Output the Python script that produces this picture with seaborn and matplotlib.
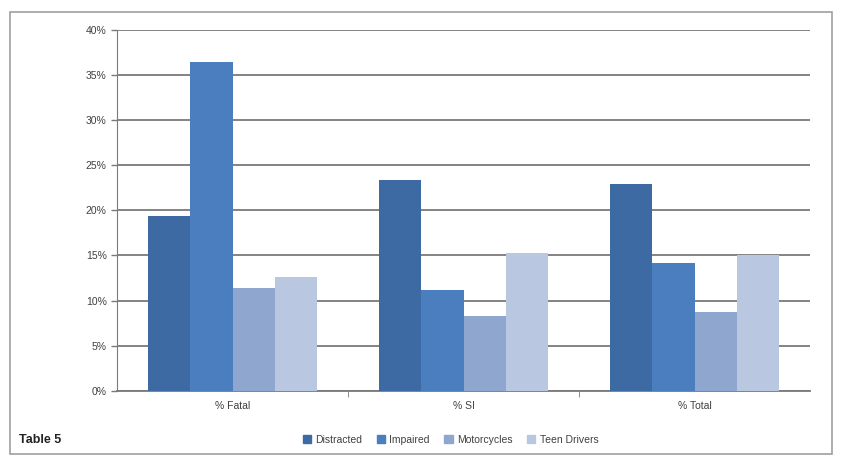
import matplotlib
matplotlib.use("Agg")
import matplotlib.pyplot as plt
import matplotlib.patches as mpatches
import pandas as pd
import seaborn as sns
from matplotlib.ticker import PercentFormatter

# =========================
# data
# =========================
categories = ["% Fatal", "% SI", "% Total"]
groups = ["Distracted", "Impaired", "Motorcycles", "Teen Drivers"]
distracted = [19.4, 23.4, 22.9]
impaired = [36.4, 11.2, 14.2]
motorcycles = [11.4, 8.3, 8.7]
teen_drivers = [12.6, 15.3, 15.0]

colors = ["#3E6AA3", "#4A7EBF", "#8FA7CF", "#B9C7E1"]

rows = []
for g, vals in zip(groups, [distracted, impaired, motorcycles, teen_drivers]):
    for c, v in zip(categories, vals):
        rows.append({"cat": c, "group": g, "value": v})
df = pd.DataFrame(rows)

# =========================
# plot
# =========================
sns.set_style("white")
plt.rcParams['font.family'] = ['Liberation Sans', 'DejaVu Sans']

fig = plt.figure(figsize=(8.42, 4.68), dpi=100)
ax = fig.add_axes([0.139, 0.165, 0.823, 0.771])

sns.barplot(data=df, x="cat", y="value", hue="group", order=categories,
            hue_order=groups, palette=colors, width=0.735, gap=0,
            saturation=1, linewidth=0, edgecolor="none",
            ax=ax, zorder=3, legend=True)

ax.set_ylim(0, 40)
ax.set_xlim(-0.5, 2.5)
ax.set_yticks(range(0, 41, 5))
ax.yaxis.set_major_formatter(PercentFormatter(decimals=0))
ax.grid(axis="y", color="#7A7A7A", linewidth=1.3, zorder=0)
ax.set_axisbelow(True)
ax.set_xlabel("")
ax.set_ylabel("")
for s in ["top", "right"]:
    ax.spines[s].set_visible(False)
ax.spines["left"].set_color("#7A7A7A")
ax.spines["bottom"].set_color("#7A7A7A")
ax.spines["bottom"].set_linewidth(1.3)
ax.tick_params(axis="both", labelsize=7.5, colors="#404040", length=4,
               width=1, direction="out")
ax.tick_params(axis="y", left=True, color="#7A7A7A")
ax.tick_params(axis="x", bottom=False)
ax.set_xticks([0.5, 1.5], minor=True)
ax.tick_params(axis="x", which="minor", bottom=True, length=4, color="#7A7A7A")

ax.legend_.remove()
handles = [mpatches.Patch(color=c, label=g) for c, g in zip(colors, groups)]
fig.legend(handles=handles, loc="center", bbox_to_anchor=(0.535, 0.06),
           ncol=4, frameon=False, fontsize=7.5, handlelength=0.8,
           handleheight=0.8, handletextpad=0.4, columnspacing=1.4,
           labelcolor="#404040")

fig.text(0.022, 0.06, "Table 5", fontsize=9, fontweight="bold",
         va="center", color="#222222")

# outer frame
fig.patches.append(mpatches.Rectangle((0.012, 0.03), 0.976, 0.945,
                                      transform=fig.transFigure, fill=False,
                                      edgecolor="#A0A0A0", linewidth=1.2))

fig.savefig("out.png", dpi=100)
